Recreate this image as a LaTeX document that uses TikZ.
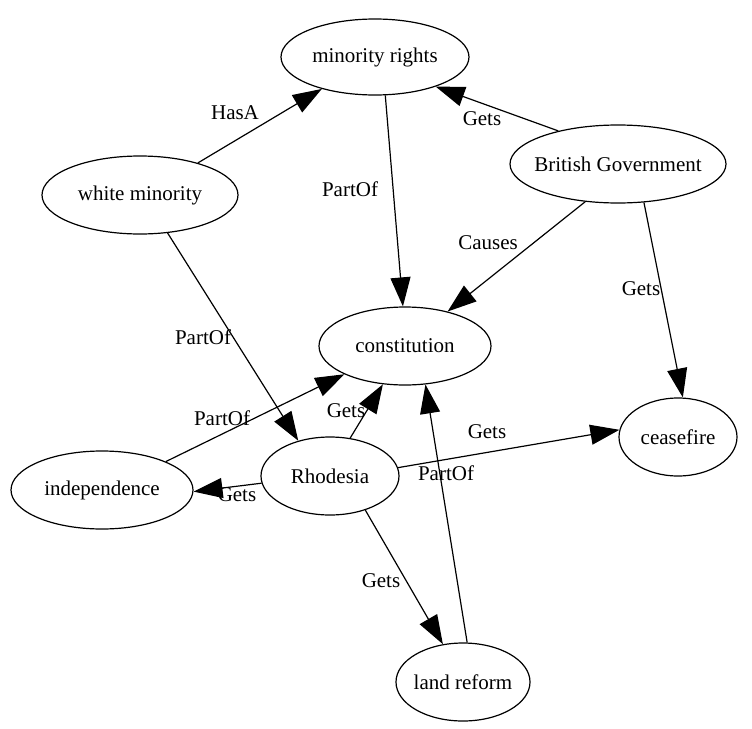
\documentclass[tikz,border=0pt]{standalone}
\usepackage{fontspec}
\setmainfont{Liberation Serif}
\usetikzlibrary{shapes.geometric,arrows.meta}
\begin{document}
\begin{tikzpicture}[x=1pt,y=-1pt,
  every node/.style={font=\fontsize{21}{25}\selectfont},
  ell/.style={draw, ellipse, line width=1.2pt, inner sep=0pt},
  conn/.style={line width=1.2pt, -{Triangle[length=29pt,width=20pt]}},
  lbl/.style={inner sep=0pt}]
\useasboundingbox (0,0) rectangle (752,728);
\node[ell, minimum width=188pt, minimum height=76pt] (mr) at (375,57) {\makebox[0pt]{minority rights}};
\node[ell, minimum width=196pt, minimum height=78pt] (wm) at (140,195) {\makebox[0pt]{white minority}};
\node[ell, minimum width=216pt, minimum height=78pt] (bg) at (618,164) {\makebox[0pt]{British Government}};
\node[ell, minimum width=172pt, minimum height=78pt] (con) at (405,346) {\makebox[0pt]{constitution}};
\node[ell, minimum width=118pt, minimum height=78pt] (cf) at (678,437) {\makebox[0pt]{ceasefire}};
\node[ell, minimum width=182pt, minimum height=78pt] (ind) at (102,490) {\makebox[0pt]{independence}};
\node[ell, minimum width=138pt, minimum height=78pt] (rh) at (330,476) {\makebox[0pt]{Rhodesia}};
\node[ell, minimum width=134pt, minimum height=78pt] (lr) at (463,682) {\makebox[0pt]{land reform}};

\draw[conn] (wm.29) -- (mr.211);
\draw[conn] (bg.151) -- (mr.-26);
\draw[conn] (mr.-75) -- (con.93);
\draw[conn] (bg.229) -- (con.39);
\draw[conn] (bg.-56) -- (cf.83);
\draw[conn] (wm.-54) -- (rh.132);
\draw[conn] (ind.24) -- (con.205);
\draw[conn] (rh.62) -- (con.240);
\draw[conn] (rh.7) -- (cf.173);
\draw[conn] (rh.186) -- (ind.-1);
\draw[conn] (rh.-44) -- (lr.118);
\draw[conn] (lr.84) -- (con.-62);

\node[lbl] (l1) at (235,113) {HasA};
\node[lbl] (l2) at (482,119) {Gets};
\node[lbl] (l3) at (350,189) {PartOf};
\node[lbl] (l4) at (488,243) {Causes};
\node[lbl] (l5) at (641,289) {Gets};
\node[lbl] (l6) at (203,337) {PartOf};
\node[lbl] (l7) at (222,418) {PartOf};
\node[lbl] (l8) at (346,411) {Gets};
\node[lbl] (l9) at (487,432) {Gets};
\node[lbl] (l10) at (237,495) {Gets};
\node[lbl] (l11) at (381,581) {Gets};
\node[lbl] (l12) at (446,473) {PartOf};
\end{tikzpicture}
\end{document}
